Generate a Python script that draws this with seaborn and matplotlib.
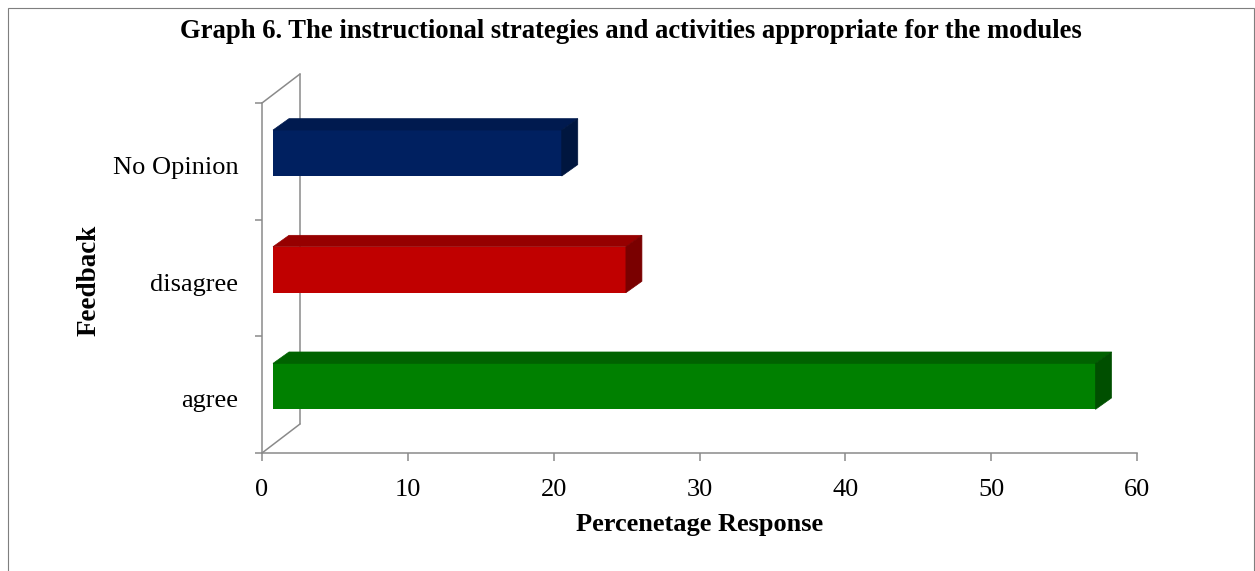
import numpy as np
import pandas as pd
import matplotlib
matplotlib.use("Agg")
import matplotlib.pyplot as plt
import seaborn as sns
from matplotlib import transforms
from matplotlib.patches import Polygon, Rectangle
from matplotlib.lines import Line2D

# ---- data ----
categories = ["No Opinion", "disagree", "agree"]
values = [19.8, 24.2, 56.4]
x_ticks = [0, 10, 20, 30, 40, 50, 60]
front_colors = ["#002060", "#C00000", "#008000"]
top_colors = ["#001a4f", "#960000", "#006200"]
side_colors = ["#00163f", "#7a0000", "#004f00"]
title = "Graph 6. The instructional strategies and activities appropriate for the modules"
xlabel = "Percenetage Response"
ylabel = "Feedback"

sns.set_theme(style="white")
plt.rcParams['font.family'] = ['Liberation Serif', 'DejaVu Serif']
plt.rcParams['text.color'] = 'black'
plt.rcParams['axes.labelcolor'] = 'black'

W, H = 1255, 571
fig = plt.figure(figsize=(W / 100, H / 100), dpi=100)
ax = fig.add_axes([262 / W, 1 - 453 / H, (1137 - 262) / W, (453 - 103) / H])

df = pd.DataFrame({"Feedback": categories, "Response": values})
sns.barplot(data=df, x="Response", y="Feedback", order=categories, hue="Feedback",
            hue_order=categories, palette=front_colors, width=0.394, orient="h",
            legend=False, saturation=1, ax=ax, linewidth=0)
ax.set_xlim(0, 60)
ax.set_ylim(2.5, -0.5)

gray = "#8a8a8a"
for s in ["top", "right"]:
    ax.spines[s].set_visible(False)
for s in ["left", "bottom"]:
    ax.spines[s].set_color(gray)
    ax.spines[s].set_linewidth(1.1)

ax.set_xticks(x_ticks)
ax.set_xticklabels([str(t) for t in x_ticks])
ax.tick_params(axis="x", direction="out", length=6, width=1.1, color=gray,
               labelcolor="black", labelsize=19, pad=13, bottom=True)
ax.set_yticks([0, 1, 2])
ax.set_yticklabels(categories)
ax.set_yticks([-0.5, 0.5, 1.5, 2.5], minor=True)
ax.tick_params(axis="y", which="major", length=0, labelsize=19, pad=17,
               labelcolor="black")
ax.tick_params(axis="y", which="minor", direction="out", length=5, width=1.1,
               color=gray, left=True)
ydown = transforms.ScaledTranslation(0, -4 / 100, fig.dpi_scale_trans)
for lab in ax.get_yticklabels():
    lab.set_transform(lab.get_transform() + ydown)

ax.set_xlabel(xlabel, fontsize=19, fontweight="bold", va="center")
ax.xaxis.set_label_coords(0.5, -0.205)
ax.set_ylabel(ylabel, fontsize=19.5, fontweight="bold", va="center", ha="center")
ax.yaxis.set_label_coords(-0.198, 0.494)

fig.text(631 / W, 1 - 31 / H, title, ha="center", va="center",
         fontsize=19.2, fontweight="bold")

# ---- pseudo 3-D rendering ----
fdx, fdy = 11, 8.3      # front-face offset from the axis plane (px)
ddx, ddy = 16, 11.4     # bar depth (px)
wdx, wdy = 38, 29       # wall depth (px)
ident = transforms.IdentityTransform()

# wall lines
p_top = ax.transAxes.transform((0, 1))
p_bot = ax.transAxes.transform((0, 0))
for a, b in [(p_top, p_top + [wdx, wdy]), (p_bot, p_bot + [wdx, wdy]),
             (p_top + [wdx, wdy], p_bot + [wdx, wdy])]:
    ax.add_line(Line2D([a[0], b[0]], [a[1], b[1]], transform=ident, color=gray,
                       lw=1.1, clip_on=False, zorder=1))

shift = transforms.ScaledTranslation(fdx / 100, fdy / 100, fig.dpi_scale_trans)
bars = [p for p in ax.patches]
for i, p in enumerate(bars):
    x0, y0, w, h = p.get_x(), p.get_y(), p.get_width(), p.get_height()
    pts = ax.transData.transform([(x0, y0), (x0 + w, y0), (x0 + w, y0 + h)]) + [fdx, fdy]
    fl, fr, br = pts
    d = np.array([ddx, ddy])
    p.set_transform(ax.transData + shift)
    p.set_zorder(3)
    p.set_edgecolor(front_colors[i])
    top = Polygon([fl, fr, fr + d, fl + d], closed=True, transform=ident,
                  facecolor=top_colors[i], edgecolor=top_colors[i], lw=0.5,
                  clip_on=False, zorder=3)
    side = Polygon([fr, fr + d, br + d, br], closed=True, transform=ident,
                   facecolor=side_colors[i], edgecolor=side_colors[i], lw=0.5,
                   clip_on=False, zorder=3)
    ax.add_patch(top)
    ax.add_patch(side)

# outer frame
fig.patches.append(Rectangle((8 / W, -0.1), (1254 - 8) / W, 1 - 8 / H + 0.1,
                             transform=fig.transFigure, fill=False,
                             edgecolor="#7f7f7f", lw=0.8))

fig.savefig("out.png", dpi=100)
